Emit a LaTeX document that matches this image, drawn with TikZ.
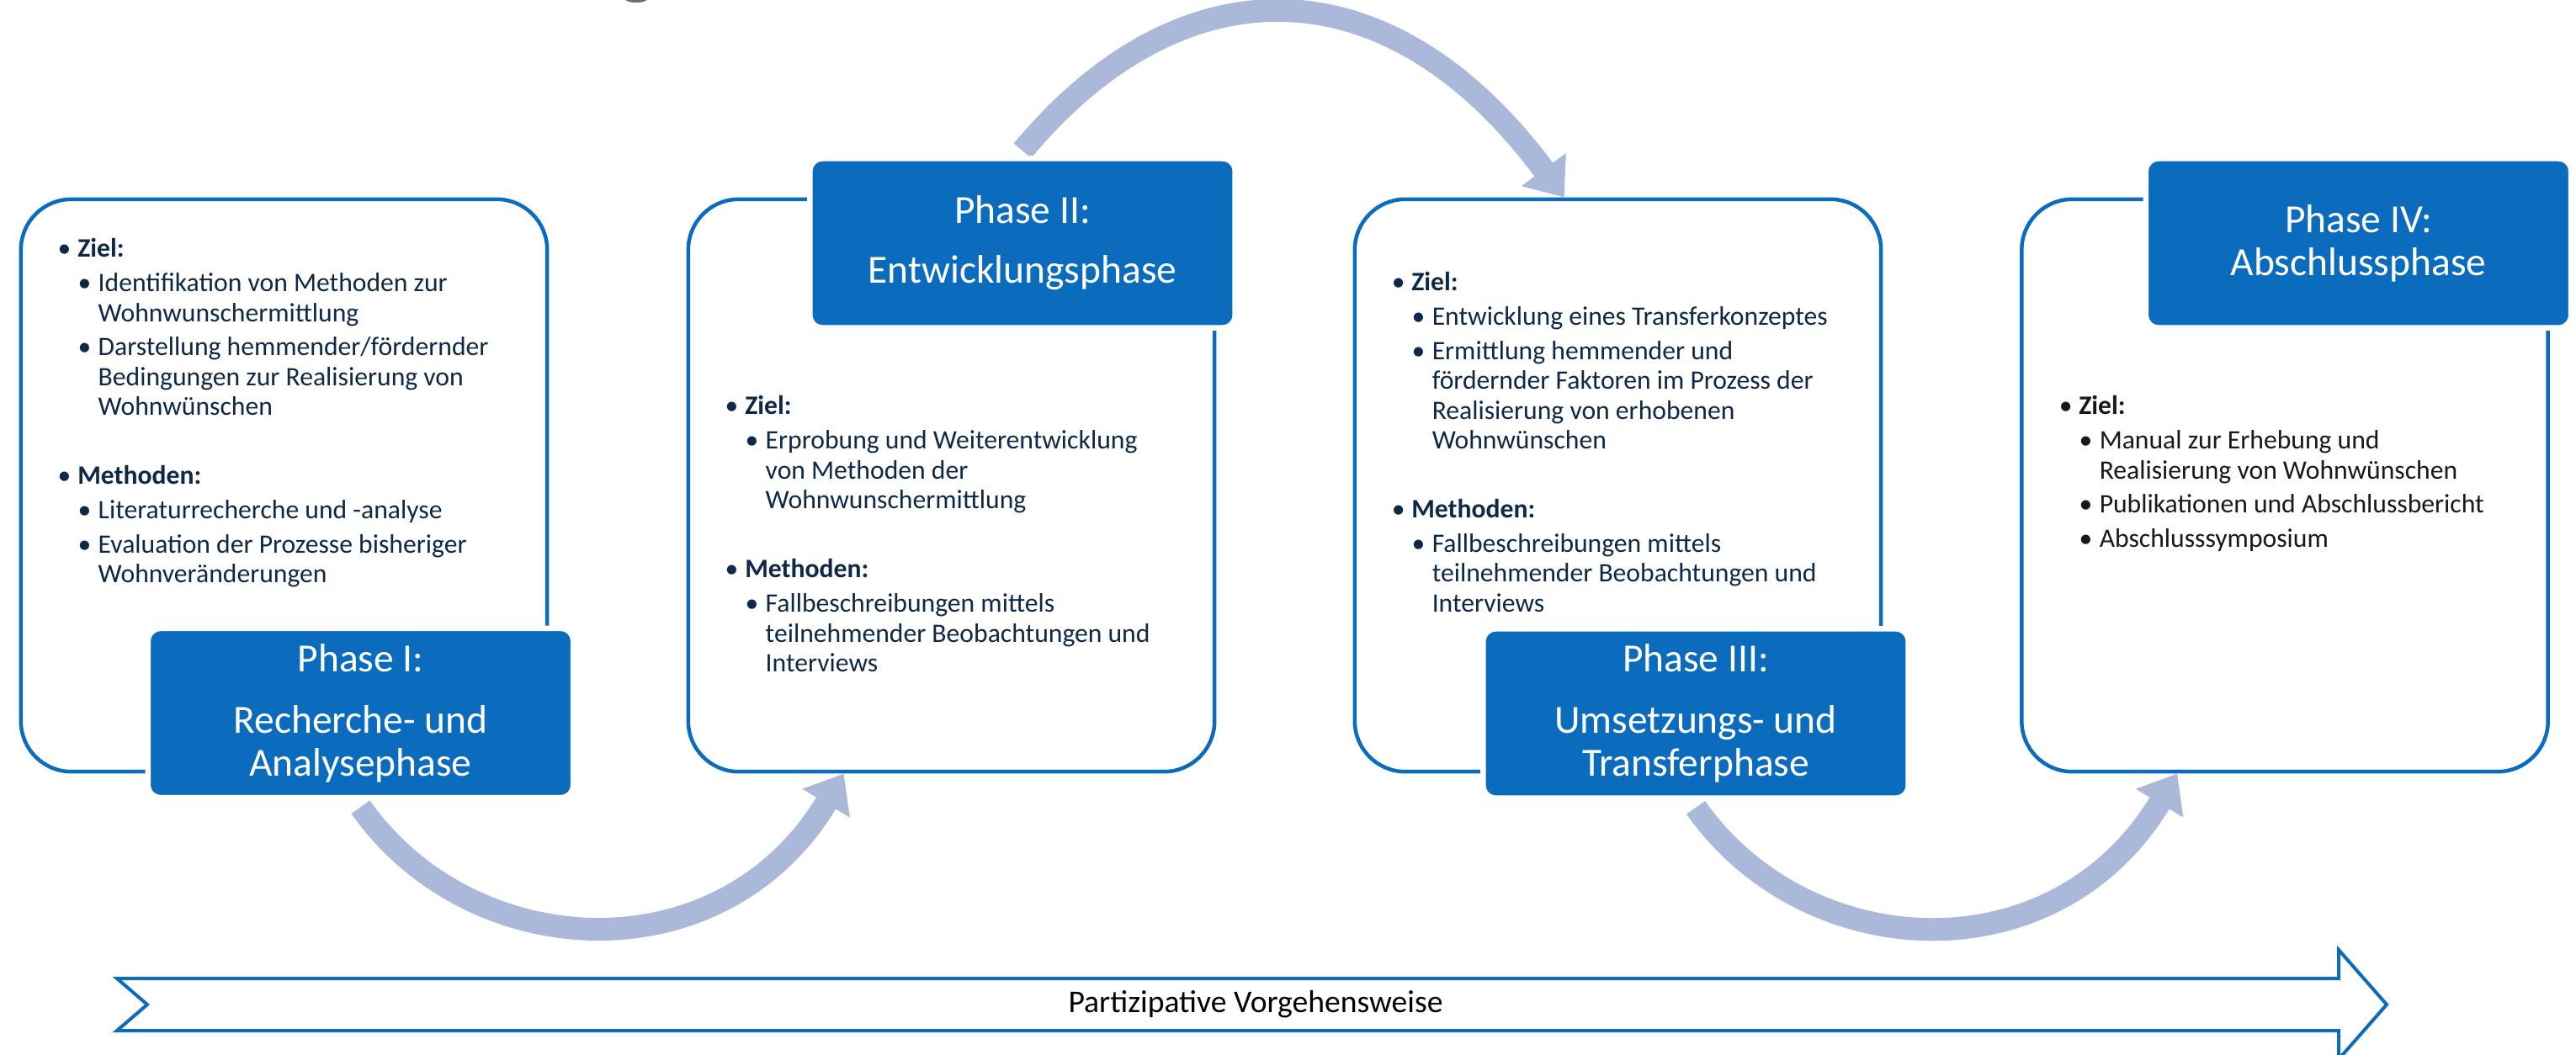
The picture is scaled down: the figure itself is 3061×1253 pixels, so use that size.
\documentclass[tikz,border=0pt]{standalone}
\usepackage{fontspec}
\setmainfont{Carlito}
\usepackage{xcolor}
\usetikzlibrary{arrows.meta,backgrounds}

\definecolor{phaseblue}{RGB}{11,108,189}
\definecolor{arcblue}{RGB}{170,185,218}
\definecolor{textnavy}{RGB}{14,40,72}
\definecolor{textblack}{RGB}{25,25,25}

\newcommand{\phasefont}{\fontsize{13.5pt}{14.5pt}\selectfont}
\newcommand{\bodyfont}{\fontsize{9pt}{10.05pt}\selectfont}
\newcommand{\bhead}[1]{\makebox[5pt][l]{\kern-1.7pt\textbullet}\textbf{#1}}
\newcommand{\bitem}[1]{\hspace*{6.8pt}\makebox[5.15pt][l]{\kern-1.7pt\textbullet}#1}
\newcommand{\bcont}[1]{\hspace*{11.95pt}#1}

\tikzset{
    infobox/.style={draw=phaseblue, fill=white, line width=0.045cm, rounded corners=0.6cm,
        minimum width=6.25cm, minimum height=6.8cm},
    phasebox/.style={fill=phaseblue, draw=white, line width=0.065cm, rounded corners=0.15cm,
        minimum width=5.05cm, minimum height=2.01cm, inner sep=0pt,
        text=white, font=\phasefont, align=center},
    bullets/.style={anchor=north west, align=left, inner sep=0pt, font=\bodyfont, text=textnavy},
    flowarc/.style={draw=arcblue, line width=0.27cm, -{Triangle[length=0.41cm,width=0.63cm]}},
}

\begin{document}
\begin{tikzpicture}[x=0.01cm,y=-0.01cm]
    \useasboundingbox (0,0) rectangle (3061,1253);

    %% Content boxes
    \node[infobox] (box1) at (337.5,577) {};
    \node[infobox] (box2) at (1130.5,577) {};
    \node[infobox] (box3) at (1922.5,577) {};
    \node[infobox] (box4) at (2715,577) {};

    %% Phase labels
    \node[phasebox] (ph1) at (428.5,847.5) {Phase I:\\[6.3pt]Recherche- und\\Analysephase};
    \node[phasebox] (ph2) at (1215,289) {Phase II:\\[5.7pt]Entwicklungsphase};
    \node[phasebox] (ph3) at (2015,848) {Phase III:\\[6.3pt]Umsetzungs- und\\Transferphase};
    \node[phasebox] (ph4) at (2802.5,289) {Phase IV:\\Abschlussphase};

    %% Ziel / Methoden
    \node[bullets] (txt1) at (74,283) {%
        \bhead{Ziel:}\\[1.6pt]
        \bitem{Identifikation von Methoden zur}\\
        \bcont{Wohnwunschermittlung}\\[1.5pt]
        \bitem{Darstellung hemmender/fördernder}\\
        \bcont{Bedingungen zur Realisierung von}\\
        \bcont{Wohnwünschen}\\[13.3pt]
        \bhead{Methoden:}\\[1.6pt]
        \bitem{Literaturrecherche und -analyse}\\[1.5pt]
        \bitem{Evaluation der Prozesse bisheriger}\\
        \bcont{Wohnveränderungen}};
    \node[bullets] (txt2) at (867,470) {%
        \bhead{Ziel:}\\[1.6pt]
        \bitem{Erprobung und Weiterentwicklung}\\
        \bcont{von Methoden der}\\
        \bcont{Wohnwunschermittlung}\\[13.3pt]
        \bhead{Methoden:}\\[1.6pt]
        \bitem{Fallbeschreibungen mittels}\\
        \bcont{teilnehmender Beobachtungen und}\\
        \bcont{Interviews}};
    \node[bullets] (txt3) at (1659,323) {%
        \bhead{Ziel:}\\[1.6pt]
        \bitem{Entwicklung eines Transferkonzeptes}\\[1.5pt]
        \bitem{Ermittlung hemmender und}\\
        \bcont{fördernder Faktoren im Prozess der}\\
        \bcont{Realisierung von erhobenen}\\
        \bcont{Wohnwünschen}\\[13.3pt]
        \bhead{Methoden:}\\[1.6pt]
        \bitem{Fallbeschreibungen mittels}\\
        \bcont{teilnehmender Beobachtungen und}\\
        \bcont{Interviews}};
    \node[bullets, text=textblack] (txt4) at (2452,470) {%
        \bhead{Ziel:}\\[1.6pt]
        \bitem{Manual zur Erhebung und}\\
        \bcont{Realisierung von Wohnwünschen}\\[1.5pt]
        \bitem{Publikationen und Abschlussbericht}\\[1.5pt]
        \bitem{Abschlusssymposium}};

    %% Curved arrows between the phases
    \begin{scope}[on background layer]
        \draw[flowarc] ([yshift=-0.08cm]ph1.south) .. controls +(1.315cm,-1.87cm) and +(-1.45cm,-2.42cm) .. ([xshift=1.87cm]box2.south west);
        \draw[flowarc] ([yshift=0.06cm]ph2.north) .. controls +(1.85cm,2.23cm) and +(-2.11cm,2.85cm) .. ([xshift=2.51cm]box3.north west);
        \draw[flowarc] ([yshift=-0.08cm]ph3.south) .. controls +(1.315cm,-1.87cm) and +(-1.45cm,-2.42cm) .. ([xshift=1.87cm]box4.south west);
    \end{scope}

    %% small grey mark at the top edge
    \fill[gray!85!black] (756,-3) ellipse (0.15cm and 0.06cm);

    %% Participation arrow
    \draw[phaseblue, line width=0.04cm, line join=miter]
        (139,1163) -- (2779,1163) -- (2779,1129) -- (2836,1194) -- (2779,1259)
        -- (2779,1225) -- (139,1225) -- (175,1194) -- cycle;
    \node[font=\fontsize{10.7pt}{12pt}\selectfont, text=black] (walk) at (1492,1194) {Partizipative Vorgehensweise};

\end{tikzpicture}
\end{document}
